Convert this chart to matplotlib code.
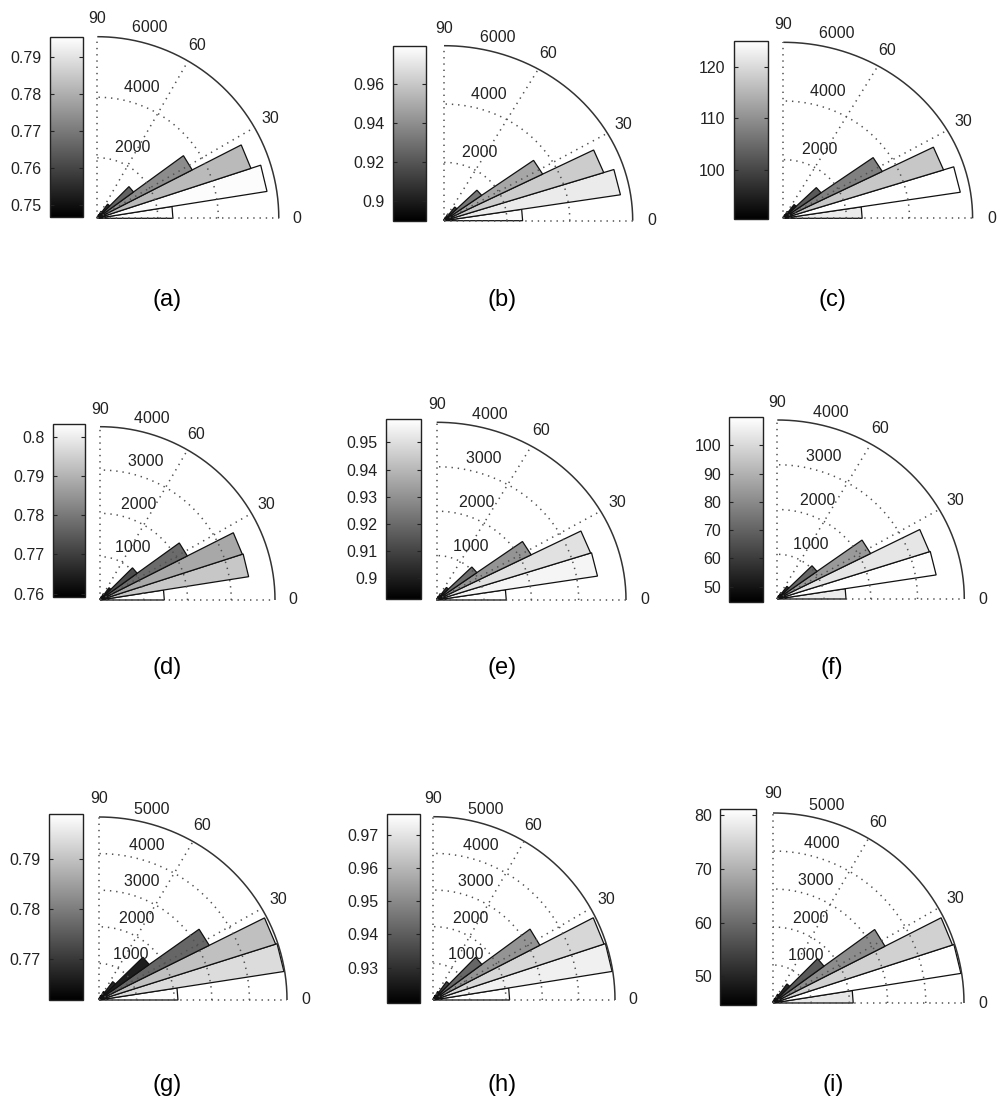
import numpy as np
import matplotlib
matplotlib.use('Agg')
import matplotlib.pyplot as plt
from matplotlib.patches import Polygon
from matplotlib.cm import ScalarMappable
from matplotlib.colors import Normalize

plt.rcParams['font.family'] = ['Liberation Sans', 'DejaVu Sans']
plt.rcParams['lines.scale_dashes'] = False

# ---------------- data ----------------
panel_labels = ['(a)', '(b)', '(c)', '(d)', '(e)', '(f)', '(g)', '(h)', '(i)']

bin_start_deg = [0, 9, 18, 27, 36, 45, 54, 63, 72, 81]
bin_width_deg = 9

counts_row1 = [2500, 5680, 5340, 3520, 1480, 580, 260, 130, 70, 40]
counts_row2 = [1470, 3440, 3420, 2240, 1050, 350, 160, 80, 40, 20]
counts_row3 = [2100, 4980, 4940, 3290, 1650, 620, 260, 130, 70, 40]

rmax_row1 = 6000
rmax_row2 = 4000
rmax_row3 = 5000
rings_row1 = [2000, 4000, 6000]
rings_row2 = [1000, 2000, 3000, 4000]
rings_row3 = [1000, 2000, 3000, 4000, 5000]

colour_a = [0.795, 0.795, 0.7824, 0.7736, 0.7658, 0.7545, 0.749, 0.747, 0.747, 0.747]
colour_b = [0.978, 0.9723, 0.9615, 0.948, 0.932, 0.911, 0.899, 0.891, 0.891, 0.891]
colour_c = [122.3, 125.0, 117.5, 107.8, 102.5, 93.9, 91.0, 90.5, 90.5, 90.5]
colour_d = [0.803, 0.7936, 0.7883, 0.7777, 0.7724, 0.7636, 0.760, 0.7595, 0.7595, 0.7595]
colour_e = [0.958, 0.956, 0.9506, 0.9307, 0.9208, 0.9055, 0.894, 0.8925, 0.8925, 0.8925]
colour_f = [104.7, 109.5, 103.4, 83.8, 70.8, 54.5, 46.0, 45.0, 45.0, 45.0]
colour_g = [0.7985, 0.7937, 0.7897, 0.7767, 0.7663, 0.7675, 0.763, 0.762, 0.762, 0.762]
colour_h = [0.976, 0.9729, 0.9672, 0.9523, 0.942, 0.9335, 0.921, 0.9195, 0.9195, 0.9195]
colour_i = [77.5, 81.0, 74.5, 64.7, 57.4, 50.2, 46.0, 45.0, 45.0, 45.0]

clim_a = (0.7468, 0.7956)
clim_b = (0.8897, 0.9795)
clim_c = (90.4, 125.1)
clim_d = (0.7592, 0.8033)
clim_e = (0.8922, 0.9586)
clim_f = (44.7, 109.9)
clim_g = (0.7619, 0.7989)
clim_h = (0.9192, 0.9763)
clim_i = (44.7, 81.1)

cticks_a = [0.75, 0.76, 0.77, 0.78, 0.79]
cticks_b = [0.9, 0.92, 0.94, 0.96]
cticks_c = [100, 110, 120]
cticks_d = [0.76, 0.77, 0.78, 0.79, 0.8]
cticks_e = [0.9, 0.91, 0.92, 0.93, 0.94, 0.95]
cticks_f = [50, 60, 70, 80, 90, 100]
cticks_g = [0.77, 0.78, 0.79]
cticks_h = [0.93, 0.94, 0.95, 0.96, 0.97]
cticks_i = [50, 60, 70, 80]

angle_labels = [0, 30, 60, 90]

# ---------------- layout (pixels) ----------------
W, H = 997, 1118
# polar origin x, origin y, radius x, radius y
polar_pos = [
    (97.3, 218.3, 181.5, 181.6), (444.0, 220.7, 188.7, 175.0), (783.3, 218.3, 189.3, 176.0),
    (100.0, 600.0, 175.0, 173.3), (436.7, 600.0, 189.3, 177.7), (777.3, 599.0, 187.0, 179.0),
    (99.0, 1000.0, 188.0, 183.0), (433.3, 1000.0, 181.7, 183.3), (773.0, 1003.0, 191.0, 190.0),
]
# colorbar x0, x1, ytop, ybottom
cbar_pos = [
    (50.0, 82.7, 36.7, 216.7), (392.7, 426.0, 45.7, 220.7), (734.0, 768.3, 40.7, 219.0),
    (53.3, 85.0, 424.0, 596.7), (386.0, 421.0, 419.0, 599.3), (729.3, 762.7, 417.3, 601.7),
    (49.3, 83.3, 814.3, 1000.0), (386.7, 420.0, 814.3, 1003.3), (720.0, 755.7, 809.0, 1005.0),
]
caption_pos = [
    (167, 300), (502, 300), (832, 300),
    (167, 668), (502, 668), (832, 668),
    (167, 1085), (502, 1085), (833, 1085),
]

counts = [counts_row1] * 3 + [counts_row2] * 3 + [counts_row3] * 3
rmaxs = [rmax_row1] * 3 + [rmax_row2] * 3 + [rmax_row3] * 3
rings = [rings_row1] * 3 + [rings_row2] * 3 + [rings_row3] * 3
colours = [colour_a, colour_b, colour_c, colour_d, colour_e, colour_f, colour_g, colour_h, colour_i]
clims = [clim_a, clim_b, clim_c, clim_d, clim_e, clim_f, clim_g, clim_h, clim_i]
cticks = [cticks_a, cticks_b, cticks_c, cticks_d, cticks_e, cticks_f, cticks_g, cticks_h, cticks_i]

fig = plt.figure(figsize=(W / 100, H / 100), dpi=100)
cmap = plt.get_cmap('gray')
txt_col = '#222222'
grid_col = '#505050'
dot_style = (0, (1.0, 3.5))
fs_small = 11.5

for k in range(9):
    ox, oy, rx, ry = polar_pos[k]
    rmax = rmaxs[k]
    ax = fig.add_axes([ox / W, 1 - oy / H, rx / W, ry / H])
    ax.set_xlim(0, rmax)
    ax.set_ylim(0, rmax)
    ax.axis('off')

    th = np.linspace(0, np.pi / 2, 300)
    ring_list = rings[k]
    rinc = ring_list[0]
    for r in ring_list[:-1]:
        ax.plot(r * np.cos(th), r * np.sin(th), color=grid_col, lw=1.1,
                linestyle=dot_style, clip_on=False)
    ax.plot(rmax * np.cos(th), rmax * np.sin(th), color='#333333', lw=1.1,
            solid_capstyle='butt', clip_on=False)
    for a in angle_labels:
        ar = np.deg2rad(a)
        ax.plot([0, rmax * np.cos(ar)], [0, rmax * np.sin(ar)], color=grid_col,
                lw=1.1, linestyle=dot_style, clip_on=False)

    norm = Normalize(*clims[k])
    for s, n, c in zip(bin_start_deg, counts[k], colours[k]):
        a1 = np.deg2rad(s)
        a2 = np.deg2rad(s + bin_width_deg)
        poly = Polygon([(0, 0), (n * np.cos(a1), n * np.sin(a1)),
                        (n * np.cos(a2), n * np.sin(a2))], closed=True,
                       facecolor=cmap(norm(c)), edgecolor='#111111', lw=0.9,
                       clip_on=False)
        ax.add_patch(poly)

    c82, s82 = np.cos(np.deg2rad(82)), np.sin(np.deg2rad(82))
    for r in ring_list:
        ax.text((r + rinc / 20) * c82, (r + rinc / 20) * s82, '  ' + str(r),
                ha='left', va='bottom', fontsize=fs_small, color=txt_col)
    for a in angle_labels:
        ar = np.deg2rad(a)
        ax.text(1.1 * rmax * np.cos(ar), 1.1 * rmax * np.sin(ar), str(a),
                ha='center', va='center', fontsize=fs_small, color=txt_col)

    x0, x1, yt, yb = cbar_pos[k]
    cax = fig.add_axes([x0 / W, 1 - yb / H, (x1 - x0) / W, (yb - yt) / H])
    cb = fig.colorbar(ScalarMappable(norm=norm, cmap=cmap), cax=cax)
    cb.set_ticks(cticks[k])
    cb.set_ticklabels(['%g' % t for t in cticks[k]])
    cb.minorticks_off()
    cax.tick_params(axis='y', which='both', direction='in', left=True, right=True,
                    labelleft=True, labelright=False, length=3, width=0.8,
                    labelsize=fs_small, labelcolor=txt_col, color='#222222', pad=6)
    cb.outline.set_linewidth(1.0)
    cb.outline.set_edgecolor('#222222')

    cx, cy = caption_pos[k]
    fig.text(cx / W, 1 - cy / H, panel_labels[k], ha='center', va='center',
             fontsize=17, color='black')

fig.savefig('out.png', dpi=100)
